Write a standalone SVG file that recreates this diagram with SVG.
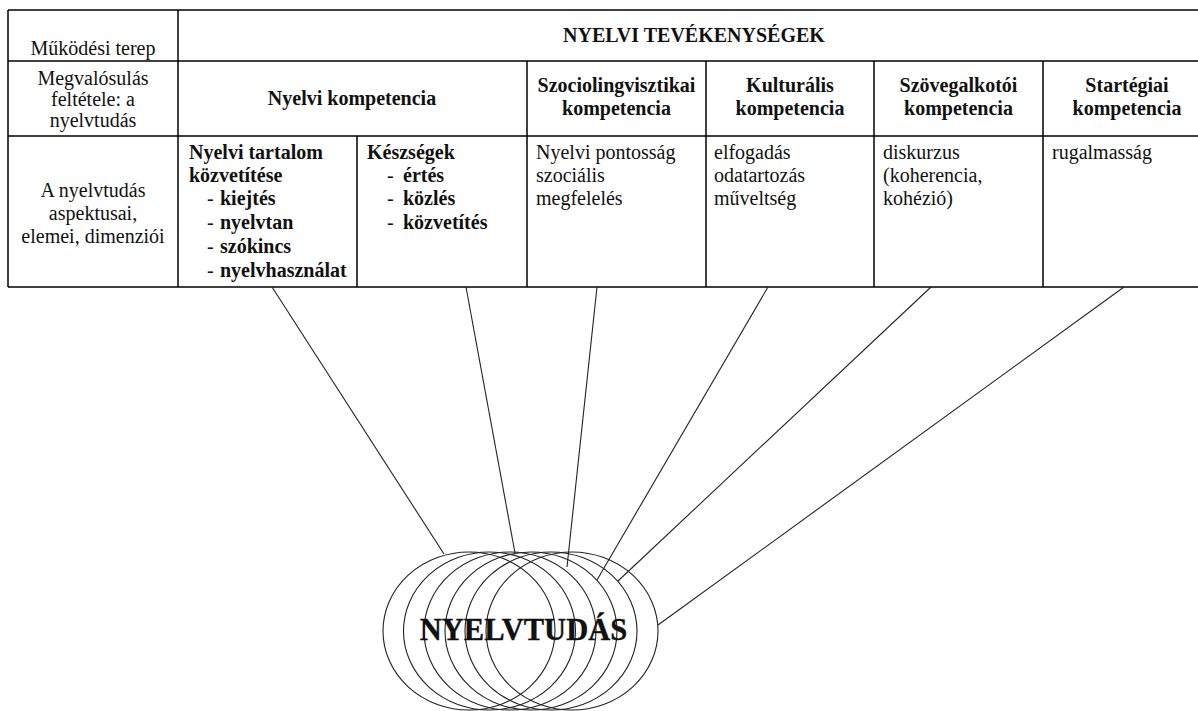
<svg xmlns="http://www.w3.org/2000/svg" width="1198" height="711" viewBox="0 0 1198 711" font-family="'Liberation Serif', 'Times New Roman', 'DejaVu Serif', serif">
  <style>
    .grid { stroke: #000; stroke-width: 1.5; fill: none; }
    .link { stroke: #222; stroke-width: 1.1; fill: none; }
    .ring { stroke: #222; stroke-width: 1.1; fill: none; }
    text { font-family: 'Liberation Serif', 'Times New Roman', 'DejaVu Serif', serif; font-size: 20px; fill: #111; }
    .b { font-weight: bold; }
    .c { text-anchor: middle; }
    .big { font-size: 30.5px; font-weight: bold; }
  </style>
  <rect width="1198" height="711" fill="#fff"/>

  <!-- table grid -->
  <g id="table-grid" class="grid">
    <line x1="8" y1="10" x2="1198" y2="10"/>
    <line x1="8" y1="61" x2="1198" y2="61"/>
    <line x1="8" y1="136" x2="1198" y2="136"/>
    <line x1="8" y1="287" x2="1198" y2="287"/>
    <line x1="8" y1="10" x2="8" y2="287"/>
    <line x1="178" y1="10" x2="178" y2="287"/>
    <line x1="527" y1="61" x2="527" y2="287"/>
    <line x1="357" y1="136" x2="357" y2="287"/>
    <line x1="706" y1="61" x2="706" y2="287"/>
    <line x1="874" y1="61" x2="874" y2="287"/>
    <line x1="1043" y1="61" x2="1043" y2="287"/>
  </g>

  <!-- row labels -->
  <g id="row-labels">
    <text class="c" x="93" y="55">Működési terep</text>
    <text class="c" x="93" y="85">Megvalósulás</text>
    <text class="c" x="93" y="106">feltétele: a</text>
    <text class="c" x="93" y="127">nyelvtudás</text>
    <text class="c" x="93" y="197">A nyelvtudás</text>
    <text class="c" x="93" y="220">aspektusai,</text>
    <text class="c" x="93" y="243">elemei, dimenziói</text>
  </g>

  <g id="header-activities">
    <text class="b c" x="694" y="42">NYELVI TEVÉKENYSÉGEK</text>
  </g>

  <g id="col-nyelvi">
    <text class="b c" x="352" y="105">Nyelvi kompetencia</text>
    <text class="b" x="189" y="159">Nyelvi tartalom</text>
    <text class="b" x="189" y="182">közvetítése</text>
    <text x="207" y="205">-</text><text class="b" x="220" y="205">kiejtés</text>
    <text x="207" y="229">-</text><text class="b" x="220" y="229">nyelvtan</text>
    <text x="207" y="253">-</text><text class="b" x="220" y="253">szókincs</text>
    <text x="207" y="277">-</text><text class="b" x="220" y="277">nyelvhasználat</text>
    <text class="b" x="367" y="159">Készségek</text>
    <text x="387" y="182">-</text><text class="b" x="403" y="182">értés</text>
    <text x="387" y="205">-</text><text class="b" x="403" y="205">közlés</text>
    <text x="387" y="229">-</text><text class="b" x="403" y="229">közvetítés</text>
  </g>

  <g id="col-szocio">
    <text class="b c" x="616.5" y="92">Szociolingvisztikai</text>
    <text class="b c" x="616.5" y="115">kompetencia</text>
    <text x="536" y="159">Nyelvi pontosság</text>
    <text x="536" y="182">szociális</text>
    <text x="536" y="205">megfelelés</text>
  </g>

  <g id="col-kult">
    <text class="b c" x="790" y="92">Kulturális</text>
    <text class="b c" x="790" y="115">kompetencia</text>
    <text x="714" y="159">elfogadás</text>
    <text x="714" y="182">odatartozás</text>
    <text x="714" y="205">műveltség</text>
  </g>

  <g id="col-szoveg">
    <text class="b c" x="958.5" y="92">Szövegalkotói</text>
    <text class="b c" x="958.5" y="115">kompetencia</text>
    <text x="883" y="159">diskurzus</text>
    <text x="883" y="182">(koherencia,</text>
    <text x="883" y="205">kohézió)</text>
  </g>

  <g id="col-strat">
    <text class="b c" x="1127" y="92">Startégiai</text>
    <text class="b c" x="1127" y="115">kompetencia</text>
    <text x="1052" y="159">rugalmasság</text>
  </g>

  <!-- connectors from the table to the rings -->
  <g id="connectors" class="link">
    <line x1="272" y1="287" x2="444" y2="554"/>
    <line x1="466" y1="287" x2="515" y2="553"/>
    <line x1="597" y1="287" x2="567" y2="567"/>
    <line x1="768" y1="287" x2="597" y2="580"/>
    <line x1="931" y1="287" x2="618" y2="581"/>
    <line x1="1124" y1="287" x2="658" y2="625"/>
  </g>

  <!-- overlapping rings -->
  <g id="nyelvtudas" class="ring">
    <ellipse cx="469" cy="631" rx="86" ry="79"/>
    <ellipse cx="489.5" cy="631" rx="86" ry="79"/>
    <ellipse cx="510" cy="631" rx="86" ry="79"/>
    <ellipse cx="531" cy="631" rx="86" ry="79"/>
    <ellipse cx="551" cy="631" rx="86" ry="79"/>
    <ellipse cx="572" cy="631" rx="86" ry="79"/>
    <text class="big c" x="523.5" y="640" stroke="#111" stroke-width="0.4">NYELVTUDÁS</text>
  </g>
</svg>
